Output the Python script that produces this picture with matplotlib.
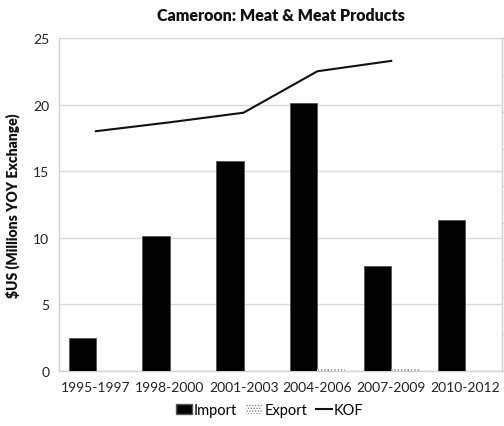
import matplotlib
matplotlib.use("Agg")
import matplotlib.pyplot as plt
from matplotlib.patches import Patch
from matplotlib.lines import Line2D

plt.rcParams['font.family'] = ['Lato', 'DejaVu Sans']
plt.rcParams['hatch.color'] = '#777777'
plt.rcParams['hatch.linewidth'] = 0.6

periods = ["1995-1997", "1998-2000", "2001-2003", "2004-2006", "2007-2009", "2010-2012"]
imports = [2.5, 10.1, 15.8, 20.1, 7.9, 11.3]
exports = [0.0, 0.0, 0.0, 0.15, 0.12, 0.0]
kof_periods = periods[:5]
kof = [32.4, 33.6, 34.9, 40.5, 41.9]

fig = plt.figure(figsize=(5.04, 4.27), dpi=100)
ax = fig.add_axes([0.117, 0.1288, 0.879, 0.78])

x = list(range(len(periods)))
bw = 0.37
ax.bar(x, imports, width=-bw, align='edge', color='black', edgecolor='#555555',
       linewidth=0.6, zorder=3, label='Import')
ax.bar(x, exports, width=bw, align='edge', color='white', edgecolor='#777777',
       hatch='.....', linewidth=0, zorder=3, label='Export')

ax.set_xlim(-0.5, len(periods) - 0.5)
ax.set_ylim(0, 25)
ax.set_yticks([0, 5, 10, 15, 20, 25])
ax.set_xticks(x)
ax.set_xticklabels(periods)
ax.grid(axis='y', color='#d9d9d9', linewidth=1.0, zorder=0)
ax.tick_params(axis='both', length=0, labelsize=10, colors='#222222', pad=7)
for side in ['top', 'right']:
    ax.spines[side].set_visible(False)
for side in ['left', 'bottom']:
    ax.spines[side].set_color('#d0d0d0')
    ax.spines[side].set_linewidth(1.0)

ax.set_ylabel("$US (Millions YOY Exchange)", fontsize=10, fontweight='heavy',
              color='#111111', labelpad=9)
ax.set_title("Cameroon: Meat & Meat Products", fontsize=11.5, fontweight='heavy',
             color='#111111', pad=13)

ax2 = ax.twinx()
ax2.set_ylim(0, 45)
ax2.set_yticks(range(0, 46, 5))
ax2.set_yticklabels([])
ax2.tick_params(axis='y', direction='out', length=3, color='#c8c8c8', width=0.8)
for side in ['top', 'left', 'bottom']:
    ax2.spines[side].set_visible(False)
ax2.spines['right'].set_color('#d0d0d0')
ax2.spines['right'].set_linewidth(1.0)
ax2.plot(list(range(len(kof_periods))), kof, color='#111111', linewidth=1.5, zorder=4)

handles = [
    Patch(facecolor='black', edgecolor='#555555', label='Import'),
    Patch(facecolor='white', edgecolor='#777777', hatch='......', linewidth=0, label='Export'),
    Line2D([0], [0], color='#111111', linewidth=1.5, label='KOF'),
]
fig.legend(handles=handles, loc='center', bbox_to_anchor=(0.535, 0.038), ncol=3,
           frameon=False, fontsize=10.5, handlelength=1.1, handletextpad=0.15,
           columnspacing=0.6, handleheight=0.7)

fig.savefig("out.png", dpi=100, facecolor='white')
